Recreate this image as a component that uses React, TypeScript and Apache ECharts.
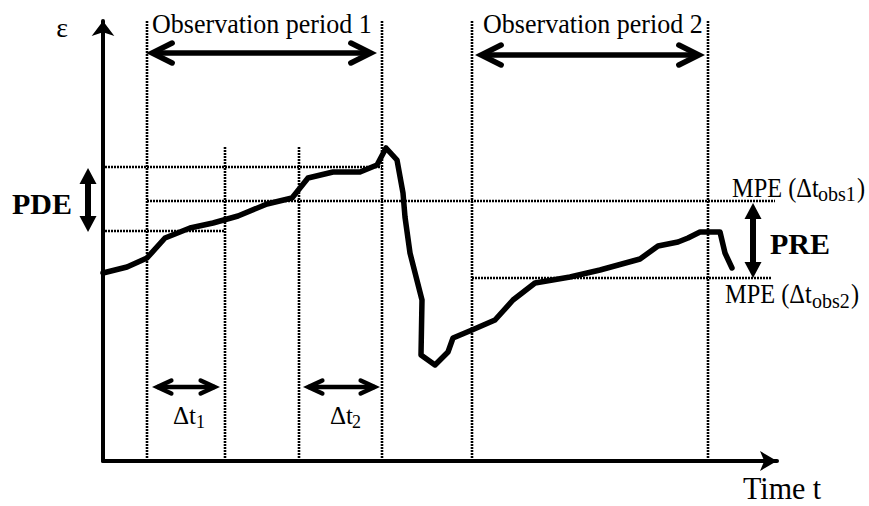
import React, { useEffect, useRef } from 'react';
import * as echarts from 'echarts';

// Curve of ε over time t (arbitrary schematic units)
const curveT = [0, 24, 44, 62, 87, 110, 135, 164, 189, 205, 230, 257, 274, 283, 294, 300, 302, 307, 319, 318, 332, 345, 350, 369, 392, 410, 432, 467, 497, 537, 555, 575, 585, 597, 617, 622, 629];
const curveE = [188, 194, 203, 223, 233, 238, 245, 257, 263, 283, 289, 289, 296, 313, 301, 268, 244, 208, 161, 106, 96, 109, 123, 131, 141, 161, 178, 184, 191, 202, 215, 219, 223, 229, 229, 208, 193];

// Vertical dotted guides (time positions and heights)
const vGuideT = [44, 122, 196, 279, 369, 605];
const vGuideTop = [440, 315, 315, 441, 441, 440];

// Horizontal dotted guides (ε levels, start/end time)
const hGuideE = [294, 260, 230, 183];
const hGuideStart = [2, 44, 2, 369];
const hGuideEnd = [279, 672, 122, 669];

// Arrows: start t, start ε, end t, end ε, kind (0 big chevron, 1 small chevron, 2 filled)
const arrowT1 = [43, 372, 49, 200, -15, 650];
const arrowE1 = [408, 406, 74, 74, 293, 258];
const arrowT2 = [274, 602, 117, 277, -15, 650];
const arrowE2 = [408, 406, 74, 74, 229, 183];
const arrowKind = [0, 0, 1, 1, 2, 2];

const SERIF = '"Liberation Serif", "Times New Roman", serif';

function txt(text: string, x: number, y: number, size: number, opts: any = {}) {
  return {
    type: 'text',
    x,
    y,
    scaleX: opts.scaleX ?? 1,
    silent: true,
    style: {
      text,
      fill: '#000',
      fontSize: size,
      fontFamily: SERIF,
      fontWeight: opts.bold ? 'bold' : 'normal',
      align: opts.align ?? 'left',
      verticalAlign: 'middle',
    },
  };
}

export default function App() {
  const ref = useRef<HTMLDivElement>(null);
  useEffect(() => {
    if (!ref.current) return;
    const chart = echarts.init(ref.current, undefined, { renderer: 'svg' });

    const dotted = { color: '#000', width: 2.6, type: [2, 1] as any };
    const guideSeries: any[] = [];
    vGuideT.forEach((t, i) => {
      guideSeries.push({
        type: 'line', symbol: 'none', silent: true, z: 1,
        lineStyle: dotted,
        data: [[t, 0], [t, vGuideTop[i]]],
      });
    });
    hGuideE.forEach((e, i) => {
      guideSeries.push({
        type: 'line', symbol: 'none', silent: true, z: 1,
        lineStyle: dotted,
        data: [[hGuideStart[i], e], [hGuideEnd[i], e]],
      });
    });

    const arrowData = arrowT1.map((t, i) => [t, arrowE1[i], arrowT2[i], arrowE2[i], arrowKind[i]]);

    const option: any = {
      animation: false,
      backgroundColor: '#fff',
      grid: { left: 103, right: 92, top: 21, bottom: 45 },
      xAxis: {
        type: 'value', min: 0, max: 674,
        axisLine: { show: true, symbol: ['none', 'arrow'], symbolSize: [15, 17], lineStyle: { color: '#000', width: 4 } },
        axisTick: { show: false }, axisLabel: { show: false }, splitLine: { show: false },
      },
      yAxis: {
        type: 'value', min: 0, max: 440,
        axisLine: { show: true, symbol: ['none', 'arrow'], symbolSize: [17, 15], lineStyle: { color: '#000', width: 4 } },
        axisTick: { show: false }, axisLabel: { show: false }, splitLine: { show: false },
      },
      series: [
        ...guideSeries,
        {
          type: 'line', symbol: 'none', silent: true, z: 5,
          lineStyle: { color: '#000', width: 5.5, join: 'round', cap: 'round' },
          data: curveT.map((t, i) => [t, curveE[i]]),
        },
        {
          type: 'custom', clip: false, silent: true, z: 6,
          data: arrowData,
          renderItem: (params: any, api: any) => {
            const a = api.coord([api.value(0), api.value(1)]);
            const b = api.coord([api.value(2), api.value(3)]);
            const kind = api.value(4);
            const dx = b[0] - a[0], dy = b[1] - a[1];
            const len = Math.hypot(dx, dy);
            const ux = dx / len, uy = dy / len;
            const px = -uy, py = ux;
            const children: any[] = [];
            if (kind === 2) {
              const L = 16, W = 8.5, lw = 6;
              children.push({
                type: 'line',
                shape: { x1: a[0] + ux * L * 0.5, y1: a[1] + uy * L * 0.5, x2: b[0] - ux * L * 0.5, y2: b[1] - uy * L * 0.5 },
                style: { stroke: '#000', lineWidth: lw },
              });
              children.push({
                type: 'polygon',
                shape: { points: [[a[0], a[1]], [a[0] + ux * L + px * W, a[1] + uy * L + py * W], [a[0] + ux * L - px * W, a[1] + uy * L - py * W]] },
                style: { fill: '#000' },
              });
              children.push({
                type: 'polygon',
                shape: { points: [[b[0], b[1]], [b[0] - ux * L + px * W, b[1] - uy * L + py * W], [b[0] - ux * L - px * W, b[1] - uy * L - py * W]] },
                style: { fill: '#000' },
              });
            } else {
              const D = kind === 0 ? 20 : 14;
              const W = kind === 0 ? 10 : 6.5;
              const lw = kind === 0 ? 5.5 : 4.5;
              const inset = (lw / 2) / Math.sin(Math.atan(W / D));
              const ta = [a[0] + ux * inset, a[1] + uy * inset];
              const tb = [b[0] - ux * inset, b[1] - uy * inset];
              const st = { stroke: '#000', lineWidth: lw, lineCap: 'round', lineJoin: 'miter', fill: null };
              children.push({ type: 'line', shape: { x1: ta[0], y1: ta[1], x2: tb[0], y2: tb[1] }, style: { stroke: '#000', lineWidth: lw } });
              children.push({
                type: 'polyline',
                shape: { points: [[ta[0] + ux * D + px * W, ta[1] + uy * D + py * W], ta, [ta[0] + ux * D - px * W, ta[1] + uy * D - py * W]] },
                style: st,
              });
              children.push({
                type: 'polyline',
                shape: { points: [[tb[0] - ux * D + px * W, tb[1] - uy * D + py * W], tb, [tb[0] - ux * D - px * W, tb[1] - uy * D - py * W]] },
                style: st,
              });
            }
            return { type: 'group', children };
          },
        },
      ],
      graphic: [
        txt('ε', 62, 27, 28, { align: 'center' }),
        txt('Observation period 1', 152, 23.5, 28, { scaleX: 0.93 }),
        txt('Observation period 2', 483, 23.5, 28, { scaleX: 0.93 }),
        txt('PDE', 12, 203, 30, { bold: true }),
        txt('PRE', 770, 243, 30, { bold: true }),
        txt('MPE (Δt', 732, 187.5, 28, { scaleX: 0.87 }),
        txt('obs1', 818, 194, 20),
        txt(')', 857, 187.5, 28, { scaleX: 0.87 }),
        txt('MPE (Δt', 725, 294, 28, { scaleX: 0.87 }),
        txt('obs2', 812, 300.5, 20),
        txt(')', 851, 294, 28, { scaleX: 0.87 }),
        txt('Δt', 173, 415.5, 25),
        txt('1', 196, 422, 18),
        txt('Δt', 330, 415.5, 25),
        txt('2', 352, 422, 18),
        txt('Time t', 743, 489, 31, { scaleX: 0.97 }),
      ],
    };
    chart.setOption(option);
    return () => chart.dispose();
  }, []);
  return (
    <div
      ref={ref}
      style={{ position: 'absolute', left: 0, top: 0, width: 869, height: 506, background: '#fff' }}
    />
  );
}
